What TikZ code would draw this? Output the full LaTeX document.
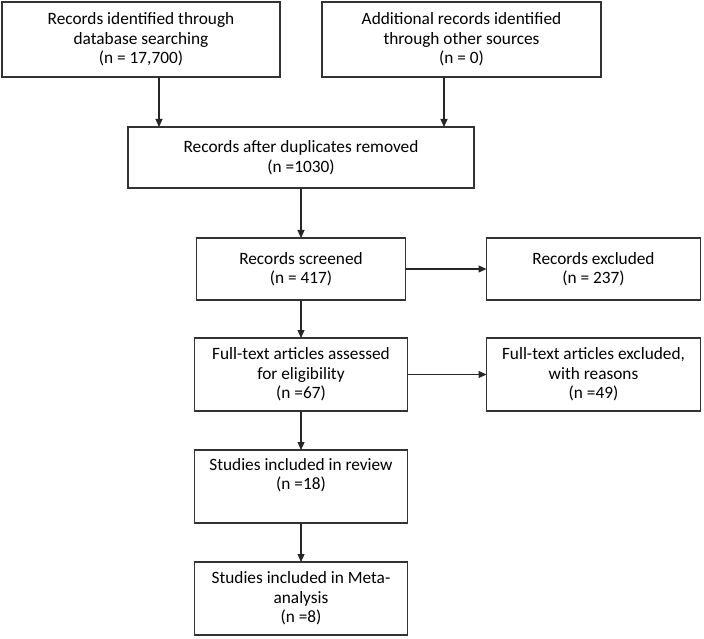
\documentclass[tikz,border=0pt]{standalone}
\usepackage{fontspec}
\setmainfont{Carlito}
\usetikzlibrary{positioning}
\usetikzlibrary{arrows.meta}

\begin{document}
\begin{tikzpicture}[
         x=1pt, y=1pt,
         box/.style = {draw=black!80, line width=1.2pt, align=center,
         inner sep=0pt, outer sep=0pt, font=\fontsize{17.3}{19.5}\selectfont},
         flow/.style = {draw=black!85, line width=1.2pt,
         -{Triangle[length=8pt,width=7pt]}}
]
         \useasboundingbox (0,0) rectangle (704,-639);

         % identification
         \node[box, minimum width=278pt, minimum height=75pt] (ident) at (141,-39.5)
            {Records identified through\\database searching\\(n = 17,700)};
         \node[box, minimum width=279pt, minimum height=75pt, right=42pt of ident] (addit)
            {Additional records identified\\through other sources\\(n = 0)};

         % screening
         \node[box, minimum width=346pt, minimum height=61pt] (dupl) at (301,-157.5)
            {Records after duplicates removed\\(n =1030)};
         \node[box, minimum width=209pt, minimum height=62pt, below=50pt of dupl] (screen)
            {Records screened\\(n = 417)};
         \node[box, minimum width=214pt, minimum height=62pt, right=81pt of screen] (excl)
            {Records excluded\\(n = 237)};

         % eligibility
         \node[box, minimum width=213pt, minimum height=73pt, below=38pt of screen] (full)
            {Full-text articles assessed\\for eligibility\\(n =67)};
         \node[box, minimum width=214pt, minimum height=73pt, right=79pt of full] (fullex)
            {Full-text articles excluded,\\with reasons\\(n =49)};

         % included
         \node[box, minimum width=213pt, minimum height=73pt, below=39pt of full] (review)
            {Studies included in review\\(n =18)\\\strut};
         \node[box, minimum width=213pt, minimum height=73pt, below=39pt of review] (meta)
            {Studies included in Meta-\\analysis\\(n =8)};

         \draw[flow] ([xshift=18pt]ident.south) -- ([xshift=18pt]ident.south |- dupl.north);
         \draw[flow] ([xshift=-17.5pt]addit.south) -- ([xshift=-17.5pt]addit.south |- dupl.north);
         \draw[flow] (dupl) -- (screen);
         \draw[flow] (screen) -- (excl);
         \draw[flow] (screen) -- (full);
         \draw[flow] (full) -- (fullex);
         \draw[flow] (full) -- (review);
         \draw[flow] (review) -- (meta);
\end{tikzpicture}
\end{document}
